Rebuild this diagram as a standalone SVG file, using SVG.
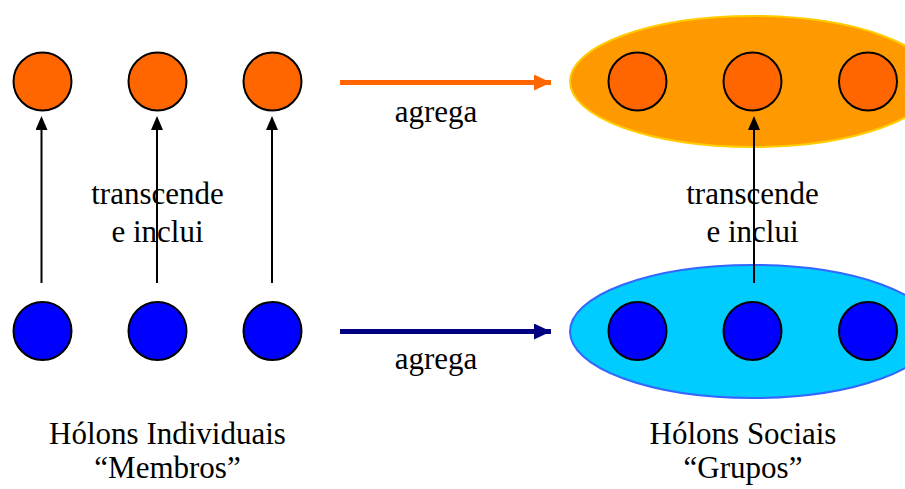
<svg xmlns="http://www.w3.org/2000/svg" width="905" height="489" viewBox="0 0 905 489">
<style>
text{font-family:'Liberation Serif','Times New Roman',Tinos,'DejaVu Serif',serif;font-size:31px;fill:#000;text-anchor:middle}
.orange{fill:#FF6600;stroke:#000;stroke-width:2}
.blue{fill:#0000FF;stroke:#000;stroke-width:2}
.up{stroke:#000;stroke-width:2;fill:none;marker-end:url(#ah)}
</style>
<defs>
<marker id="ah" markerWidth="12" markerHeight="14" refX="6" refY="14" orient="0" markerUnits="userSpaceOnUse" viewBox="0 0 12 14">
<path d="M0,14 L6,0 L12,14 Z" fill="#000"/>
</marker>
<marker id="ahO" markerWidth="17" markerHeight="16" refX="17" refY="8" orient="auto" markerUnits="userSpaceOnUse" viewBox="0 0 17 16">
<path d="M0,0 L17,8 L0,16 Z" fill="#FF6600"/>
</marker>
<marker id="ahB" markerWidth="17" markerHeight="16" refX="17" refY="8" orient="auto" markerUnits="userSpaceOnUse" viewBox="0 0 17 16">
<path d="M0,0 L17,8 L0,16 Z" fill="#000080"/>
</marker>
</defs>
<g id="grupo-social-orange">
<ellipse cx="752.5" cy="81.5" rx="182.5" ry="65.5" fill="#FF9900" stroke="#FFCC00" stroke-width="2"/>
</g>
<g id="grupo-social-blue">
<ellipse cx="752.5" cy="331.5" rx="182.5" ry="66.5" fill="#00CCFF" stroke="#3366FF" stroke-width="2"/>
</g>
<g id="ind-orange-1"><circle class="orange" cx="42.5" cy="81.5" r="29"/></g>
<g id="ind-orange-2"><circle class="orange" cx="157.5" cy="81.5" r="29"/></g>
<g id="ind-orange-3"><circle class="orange" cx="272.5" cy="81.5" r="29"/></g>
<g id="ind-blue-1"><circle class="blue" cx="42.5" cy="331" r="29"/></g>
<g id="ind-blue-2"><circle class="blue" cx="157.5" cy="331" r="29"/></g>
<g id="ind-blue-3"><circle class="blue" cx="272.5" cy="331" r="29"/></g>
<g id="soc-orange-1"><circle class="orange" cx="637.5" cy="81.5" r="29"/></g>
<g id="soc-orange-2"><circle class="orange" cx="752.5" cy="81.5" r="29"/></g>
<g id="soc-orange-3"><circle class="orange" cx="868" cy="81.5" r="29"/></g>
<g id="soc-blue-1"><circle class="blue" cx="637.5" cy="331" r="29"/></g>
<g id="soc-blue-2"><circle class="blue" cx="752.5" cy="331" r="29"/></g>
<g id="soc-blue-3"><circle class="blue" cx="868" cy="331" r="29"/></g>
<g id="connectors">
<line class="up" x1="41.5" y1="283" x2="41.5" y2="130"/>
<line class="up" x1="157" y1="283" x2="157" y2="130"/>
<line class="up" x1="272" y1="283" x2="272" y2="130"/>
<line class="up" x1="754" y1="283" x2="754" y2="130"/>
<line x1="340" y1="82.5" x2="551" y2="82.5" stroke="#FF6600" stroke-width="5" marker-end="url(#ahO)"/>
<line x1="340" y1="331.5" x2="551" y2="331.5" stroke="#000080" stroke-width="5" marker-end="url(#ahB)"/>
</g>
<g id="labels">
<text x="436" y="122">agrega</text>
<text x="436" y="369">agrega</text>
<text x="157.5" y="204">transcende</text>
<text x="157.5" y="242">e inclui</text>
<text x="752.5" y="204">transcende</text>
<text x="752.5" y="242">e inclui</text>
<text x="167.5" y="444">Hólons Individuais</text>
<text x="167.5" y="478">“Membros”</text>
<text x="743" y="444">Hólons Sociais</text>
<text x="743" y="478">“Grupos”</text>
</g>
</svg>
